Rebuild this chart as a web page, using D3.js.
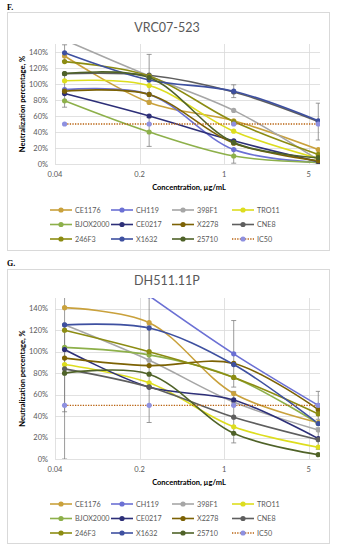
<!DOCTYPE html>
<html>
<head>
<meta charset="utf-8">
<script src="https://d3js.org/d3.v7.min.js"></script>
<style>
  body { margin: 0; background: #fff; }
  text { font-family: Lato, "Open Sans", sans-serif; }
</style>
</head>
<body>
<script>
// concentrations (µg/mL), five-fold dilution
const conc = [0.048, 0.24, 1.2, 6];
const xTicks = [0.04, 0.2, 1, 5];
const yTicks = [0, 20, 40, 60, 80, 100, 120, 140];

const viruses = ['CE1176', 'CH119', '398F1', 'TRO11', 'BJOX2000', 'CE0217', 'X2278', 'CNE8', '246F3', 'X1632', '25710', 'IC50'];
const colors = ['#C9A13C', '#6B70D4', '#A6A6A6', '#DDDD1E', '#8DB04A', '#2D2F78', '#7C6204', '#5E5E5E', '#8C8C12', '#3E50A0', '#4F6228', '#8E90E0'];

// VRC07-523, neutralization %
const vrcCE1176   = [135, 77, 54, 18];
const vrcCH119    = [93, 87, 18, 2];
const vrc398F1    = [155, 110, 67, 5];
const vrcTRO11    = [104, 98, 41, 7];
const vrcBJOX2000 = [79, 40, 10, 2];
const vrcCE0217   = [88, 60, 29, 3];
const vrcX2278    = [91, 87, 26, 4];
const vrcCNE8     = [113, 111, 90, 53];
const vrc246F3    = [128, 110, 53, 12];
const vrcX1632    = [139, 105, 91, 54];
const vrc25710    = [113, 108, 27, 8];
const vrcIC50     = [50, 50, 50, 50];
// [series, point, ± error]
const vrcErrors = [['X2278', 0, 20], ['X1632', 0, 10], ['25710', 1, 29], ['BJOX2000', 1, 18],
                   ['X1632', 2, 8], ['BJOX2000', 2, 9], ['CNE8', 3, 23]];

// DH511.11P, neutralization %
const dhCE1176   = [141, 127, 61, 34];
const dhCH119    = [null, 152, 98, 50];
const dh398F1    = [125, 92, 53, 27];
const dhTRO11    = [88, 71, 30, 11];
const dhBJOX2000 = [104, 97, 76, 33];
const dhCE0217   = [102, 67, 55, 19];
const dhX2278    = [94, 87, 89, 46];
const dhCNE8     = [84, 67, 39, 18];
const dh246F3    = [120, 100, 76, 42];
const dhX1632    = [125, 122, 88, 33];
const dh25710    = [80, 79, 24, 4];
const dhIC50     = [50, 50, 50, 50];
const dhErrors = [['25710', 0, 80], ['CNE8', 0, 40], ['25710', 1, 45], ['X1632', 1, 30],
                  ['CH119', 2, 31], ['CNE8', 2, 24], ['CH119', 3, 13], ['CE0217', 3, 10]];

const vrcValues = [vrcCE1176, vrcCH119, vrc398F1, vrcTRO11, vrcBJOX2000, vrcCE0217, vrcX2278, vrcCNE8, vrc246F3, vrcX1632, vrc25710, vrcIC50];
const dhValues = [dhCE1176, dhCH119, dh398F1, dhTRO11, dhBJOX2000, dhCE0217, dhX2278, dhCNE8, dh246F3, dhX1632, dh25710, dhIC50];

const svg = d3.select('body').append('svg')
    .attr('width', 337)
    .attr('height', 550);

function drawPanel(p) {
  const g = svg.append('g');

  // panel letter
  g.append('text').attr('x', 7).attr('y', p.letterY)
    .style('font-family', '"Liberation Serif", serif').style('font-weight', 'bold')
    .style('font-size', '8px').text(p.letter);

  // chart frame
  g.append('rect').attr('x', 7.5).attr('y', p.boxTop + 0.5)
    .attr('width', 322).attr('height', p.boxBottom - p.boxTop)
    .attr('fill', '#fff').attr('stroke', '#d9d9d9');

  g.append('text').attr('x', 167).attr('y', p.titleY)
    .attr('text-anchor', 'middle').attr('fill', '#595959')
    .style('font-size', '12.5px').text(p.title);

  const x = d3.scaleLog().base(5).domain([0.04, 6.2]).range([55, 320]);
  const y = d3.scaleLinear().domain([0, 150]).range([p.bottom, p.top]);

  // gridlines
  g.selectAll('.hgrid').data(yTicks).join('line')
    .attr('x1', 55).attr('x2', 320)
    .attr('y1', d => Math.round(y(d)) + 0.5).attr('y2', d => Math.round(y(d)) + 0.5)
    .attr('stroke', '#d9d9d9').attr('stroke-width', 0.8);
  g.selectAll('.vgrid').data(xTicks).join('line')
    .attr('x1', d => Math.round(x(d)) + 0.5).attr('x2', d => Math.round(x(d)) + 0.5)
    .attr('y1', p.top).attr('y2', p.bottom)
    .attr('stroke', '#d9d9d9').attr('stroke-width', 0.8);

  g.selectAll('.ylab').data(yTicks).join('text')
    .attr('x', 48).attr('y', d => y(d) + 2.5)
    .attr('text-anchor', 'end').attr('fill', '#595959')
    .style('font-size', '7.5px').text(d => d + '%');
  g.selectAll('.xlab').data(xTicks).join('text')
    .attr('x', d => x(d)).attr('y', p.bottom + 13)
    .attr('text-anchor', 'middle').attr('fill', '#595959')
    .style('font-size', '7.5px').text(d => d);

  g.append('text').attr('x', 189).attr('y', p.xTitleY)
    .attr('text-anchor', 'middle').style('font-weight', 'bold')
    .style('font-size', '7.5px').text('Concentration, µg/mL');
  g.append('text')
    .attr('transform', `translate(25,${(p.top + p.bottom) / 2}) rotate(-90)`)
    .attr('text-anchor', 'middle').style('font-weight', 'bold')
    .style('font-size', '7.5px').text('Neutralization percentage, %');

  // clip to plot area
  const clipId = 'clip' + p.letter;
  svg.append('clipPath').attr('id', clipId).append('rect')
    .attr('x', 55).attr('y', p.top).attr('width', 265).attr('height', p.bottom - p.top);
  const plot = g.append('g').attr('clip-path', `url(#${clipId})`);

  const smooth = d3.line().defined(d => d != null)
    .x((d, i) => x(conc[i])).y(d => y(d)).curve(d3.curveCatmullRom.alpha(0.5));
  const straight = d3.line().x((d, i) => x(conc[i])).y(d => y(d));

  p.values.forEach((vals, k) => {
    const isIC = viruses[k] === 'IC50';
    plot.append('path')
      .attr('d', isIC ? straight(vals) : smooth(vals))
      .attr('fill', 'none')
      .attr('stroke', isIC ? '#B8610E' : colors[k])
      .attr('stroke-width', isIC ? 1.3 : 1.6)
      .attr('stroke-dasharray', isIC ? '1.3,1.3' : null);
  });

  // error bars
  p.errors.forEach(([name, i, e]) => {
    const v = p.values[viruses.indexOf(name)][i];
    const cx = x(conc[i]);
    const eb = plot.append('g').attr('stroke', '#808080').attr('stroke-width', 0.8);
    eb.append('line').attr('x1', cx).attr('x2', cx).attr('y1', y(v - e)).attr('y2', y(v + e));
    [v - e, v + e].forEach(t => eb.append('line')
      .attr('x1', cx - 2.5).attr('x2', cx + 2.5).attr('y1', y(t)).attr('y2', y(t)));
  });

  p.values.forEach((vals, k) => {
    plot.selectAll(null).data(vals.map((v, i) => [v, i]).filter(d => d[0] != null)).join('circle')
      .attr('cx', d => x(conc[d[1]])).attr('cy', d => y(d[0]))
      .attr('r', 2.6).attr('fill', colors[k]);
  });

  // legend
  viruses.forEach((name, k) => {
    const lx = [50, 111, 172, 232][k % 4];
    const ly = p.legendY + Math.floor(k / 4) * 14.5;
    const isIC = name === 'IC50';
    g.append('line').attr('x1', lx).attr('x2', lx + 22).attr('y1', ly).attr('y2', ly)
      .attr('stroke', isIC ? '#B8610E' : colors[k]).attr('stroke-width', isIC ? 1.3 : 1.6)
      .attr('stroke-dasharray', isIC ? '1.3,1.3' : null);
    g.append('circle').attr('cx', lx + 11).attr('cy', ly).attr('r', 2.6).attr('fill', colors[k]);
    g.append('text').attr('x', lx + 25).attr('y', ly + 2.5)
      .attr('fill', '#595959').style('font-size', '7.2px').text(name);
  });
}

drawPanel({ letter: 'F.', letterY: 10, boxTop: 12, boxBottom: 250, title: 'VRC07-523', titleY: 32,
  top: 44, bottom: 164, xTitleY: 190, legendY: 210, values: vrcValues, errors: vrcErrors });
drawPanel({ letter: 'G.', letterY: 266, boxTop: 269, boxBottom: 543, title: 'DH511.11P', titleY: 285,
  top: 298, bottom: 459, xTitleY: 485, legendY: 504, values: dhValues, errors: dhErrors });
</script>
</body>
</html>
